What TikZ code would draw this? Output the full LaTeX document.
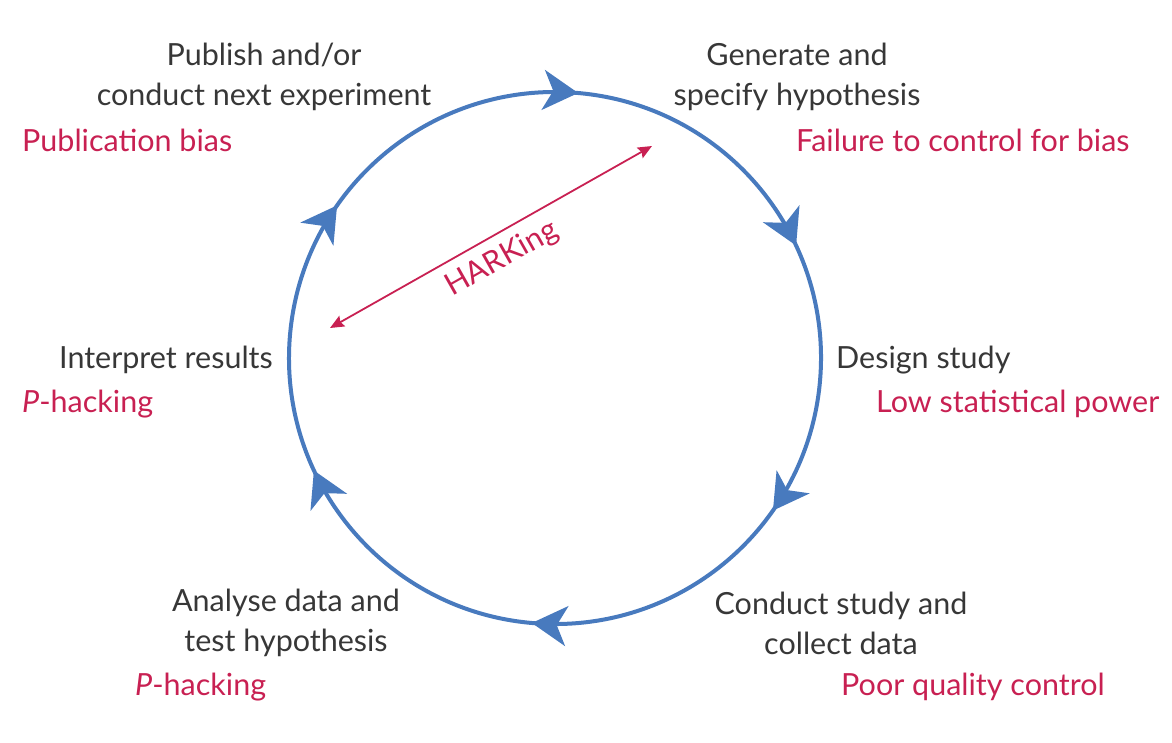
\documentclass[tikz,border=0pt]{standalone}
\usepackage{fontspec}
\setmainfont{Lato}
\usetikzlibrary{arrows.meta,decorations.markings}
\definecolor{cycleblue}{RGB}{72,122,190}
\definecolor{biasred}{RGB}{200,32,82}
\definecolor{stagegray}{RGB}{55,55,55}
\tikzset{
  cyclehead/.tip={Stealth[length=35pt,width=40pt,inset=10pt]},
  harkhead/.tip={Stealth[length=14pt,width=12pt,inset=2pt]}}
\begin{document}
\begin{tikzpicture}[x=1pt,y=-1pt,
  txt/.style={font=\fontsize{30.5}{40}\selectfont, inner sep=0pt},
  stage/.style={txt, text=stagegray, align=center},
  bias/.style={txt, text=biasred}]
\useasboundingbox (0,0) rectangle (1172,742);
% the research cycle, drawn clockwise with six arrowheads
\coordinate (c) at (555,358);
\draw[cycleblue, line width=4pt, postaction={decorate},
  decoration={markings,
    mark=at position 30/360 with {\arrow{cyclehead}},
    mark=at position 90/360 with {\arrow{cyclehead}},
    mark=at position 150/360 with {\arrow{cyclehead}},
    mark=at position 210/360 with {\arrow{cyclehead}},
    mark=at position 270/360 with {\arrow{cyclehead}},
    mark=at position 330/360 with {\arrow{cyclehead}}}]
  (c) ++(-175:266) arc[start angle=-175, end angle=185, radius=266];
% stages of the cycle
\node[stage] (publish) at (264,77) {Publish and/or\\conduct next experiment};
\node[stage] (generate) at (797,77) {Generate and\\specify hypothesis};
\node[stage, anchor=west] (design) at (836,360) {Design study};
\node[stage, anchor=east] (interpret) at (273,360) {Interpret results};
\node[stage] (conduct) at (841,623) {Conduct study and\\collect data};
\node[stage] (analyse) at (286,623) {Analyse data and\\test hypothesis};
% threats at each stage
\node[bias, anchor=west] (pubbias) at (22,140) {Publication bias};
\node[bias, anchor=west] (failbias) at (796,140) {Failure to control for bias};
\node[bias, anchor=west] (lowpower) at (876,404) {Low statistical power};
\node[bias, anchor=west] (phack1) at (22,404) {\textit{P}-hacking};
\node[bias, anchor=west] (poorqc) at (841,687) {Poor quality control};
\node[bias, anchor=west] (phack2) at (135,687) {\textit{P}-hacking};
% HARKing shortcut
\coordinate (hstart) at (330,328);
\coordinate (hend) at (652,146);
\draw[biasred, line width=1.8pt, {harkhead}-{harkhead}] (hstart) -- (hend);
\node[bias, rotate=29.5] (hark) at (502,259) {HARKing};
\end{tikzpicture}
\end{document}
